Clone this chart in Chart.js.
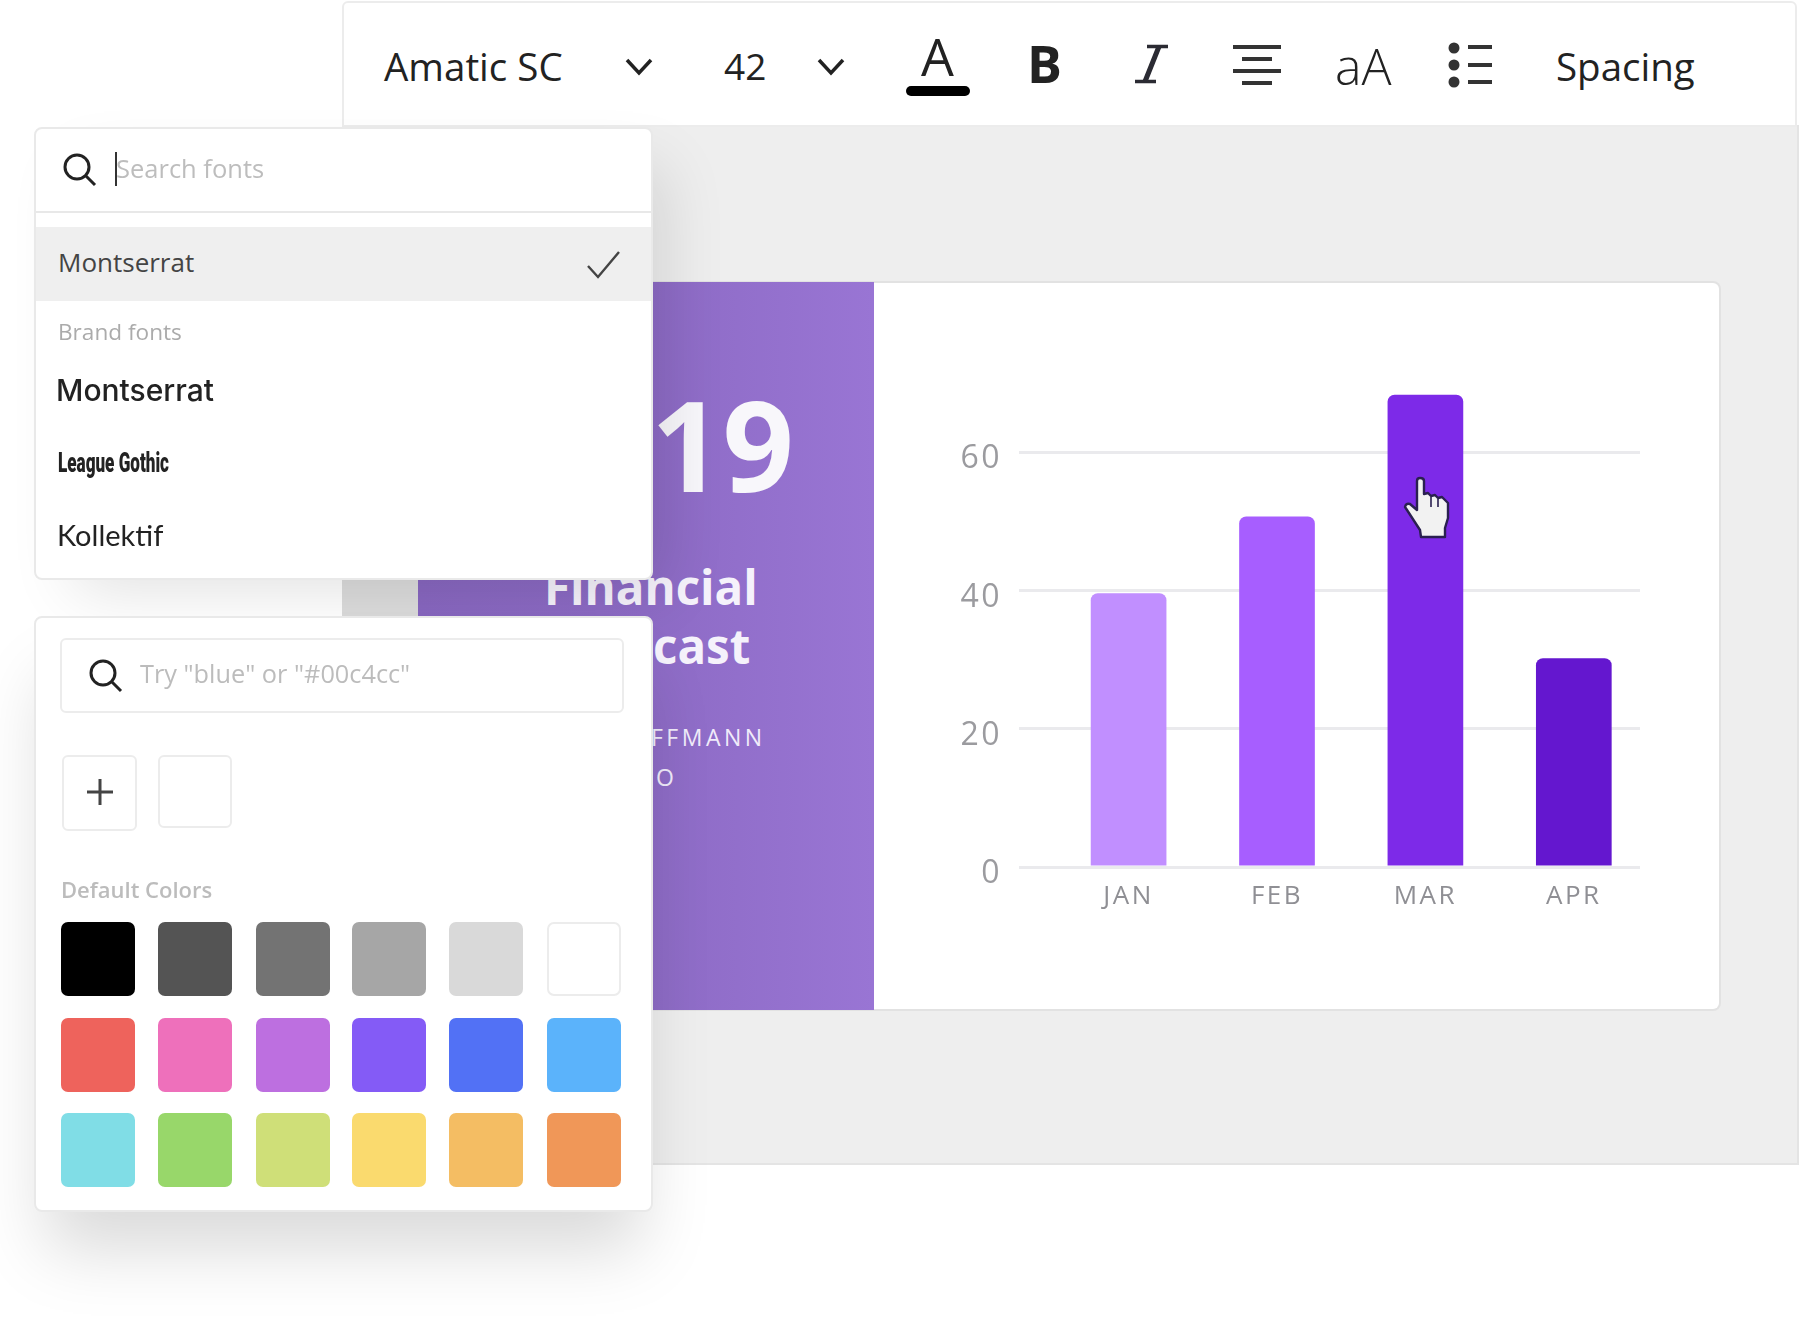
<!DOCTYPE html>
<html>
<head>
<meta charset="utf-8">
<title>Financial chart editor</title>
<script src="https://cdn.jsdelivr.net/npm/chart.js@4"></script>
<style>
  html, body { margin: 0; padding: 0; background: #fff; }
  #page { position: relative; width: 1800px; height: 1339px; overflow: hidden; font-family: "Open Sans", sans-serif; filter: blur(0.65px); }
  #page div, #page canvas, #page svg { position: absolute; }
  .t { white-space: nowrap; line-height: 1; }
  .panel { background: #fff; border: 2px solid #e9e9e9; border-radius: 8px; box-sizing: border-box; }
  .box { border: 2px solid #ececec; border-radius: 6px; box-sizing: border-box; background: #fff; }
  .swatch { border-radius: 7px; width: 74px; height: 74px; box-sizing: border-box; }
</style>
</head>
<body>
<div id="page">
  <!-- grey editor area and toolbar -->
  <div style="left:342px;top:125px;width:1455px;height:1038px;background:#eeeeee;border-bottom:2px solid #e4e4e4;border-right:2px solid #e4e4e4"></div>
  <div style="left:342px;top:1px;width:1455px;height:126px;background:#fff;border:2px solid #ececec;border-radius:6px 6px 0 0;box-sizing:border-box"></div>

  <div class="t" style="left:384px;top:47px;font-size:38.5px;color:#222">Amatic SC</div>
  <svg style="left:624px;top:56px" width="32" height="24"><path d="M3 4 L15 17 L27 4" fill="none" stroke="#222" stroke-width="3.5"/></svg>
  <div class="t" style="left:724px;top:47px;font-size:37px;color:#222">42</div>
  <svg style="left:816px;top:56px" width="32" height="24"><path d="M3 4 L15 17 L27 4" fill="none" stroke="#222" stroke-width="3.5"/></svg>
  <div class="t" style="left:921px;top:30px;font-size:52px;color:#222">A</div>
  <div style="left:906px;top:86px;width:64px;height:10px;background:#000;border-radius:5px"></div>
  <div class="t" style="left:1027px;top:37px;font-size:52px;font-weight:700;color:#222">B</div>
  <svg style="left:1130px;top:42px" width="42" height="44" fill="none" stroke="#2b2b33"><path d="M17 4.5 H38 M5 39.5 H26" stroke-width="3.6"/><path d="M29 4.5 L15 39.5" stroke-width="5"/></svg>
  <svg style="left:1232px;top:44px" width="50" height="42" fill="#333"><rect x="1" y="1" width="48" height="4"/><rect x="10" y="13" width="30" height="4"/><rect x="1" y="25" width="48" height="4"/><rect x="10" y="37" width="30" height="4"/></svg>
  <div class="t" style="left:1335px;top:41px;font-size:50px;font-weight:300;color:#222">aA</div>
  <svg style="left:1446px;top:42px" width="50" height="46" fill="#333"><circle cx="8" cy="6" r="5.5"/><circle cx="8" cy="23" r="5.5"/><circle cx="8" cy="40" r="5.5"/><rect x="22" y="3" width="24" height="4"/><rect x="22" y="21" width="24" height="4"/><rect x="22" y="38" width="24" height="4"/></svg>
  <div class="t" style="left:1556px;top:47px;font-size:38.5px;color:#222">Spacing</div>

  <!-- slide card with purple cover panel -->
  <div style="left:342px;top:580px;width:76px;height:36px;background:#dcdcdc"></div>
  <div style="left:418px;top:281px;width:1303px;height:730px;background:#fff;border:2px solid #e2e2e2;border-left:none;border-radius:0 8px 8px 0;box-sizing:border-box"></div>
  <div style="left:418px;top:282px;width:456px;height:728px;background:linear-gradient(90deg,#8867c0 0%,#8d6bc5 50%,#9975d4 100%)"></div>
  <div class="t" style="left:651px;top:381px;font-size:125px;font-weight:700;color:#f8f7fb">19</div>
  <div class="t" style="left:544px;top:563px;font-size:47.5px;font-weight:700;color:#f5f2fb">Financial</div>
  <div class="t" style="left:653px;top:622px;font-size:47.5px;font-weight:700;color:#f5f2fb">cast</div>
  <div class="t" style="left:651px;top:726px;font-size:23px;letter-spacing:3.5px;color:#f0ebfa">FFMANN</div>
  <div class="t" style="left:656px;top:766px;font-size:23px;color:#f0ebfa">O</div>

  <canvas id="chart" width="844" height="729" style="left:874px;top:281px"></canvas>

  <!-- hand cursor on the MAR bar -->
  <svg style="left:1395px;top:470px" width="65" height="75" viewBox="0 0 65 75">
    <path d="M22 11 Q22 8 25 8 Q29 8 29 11 L29 24 L33 23 L36 26 L40 25 L43 28 L47 27 L53 33 L53 48 L50 58 L50 67 L26 67 L25 60 L12 40 L10 37 Q11 33 15 34 L22 40 Z" fill="#f2f2f2" stroke="#2a2050" stroke-width="2.4" stroke-linejoin="round"/>
    <path d="M36 27 V37 M43 29 V37" stroke="#2a2050" stroke-width="1.6"/>
  </svg>

  <!-- font picker -->
  <div class="panel" style="left:34px;top:127px;width:619px;height:453px;box-shadow:25px 25px 60px -15px rgba(0,0,0,.12)"></div>
  <svg style="left:60px;top:150px" width="38" height="38" fill="none" stroke="#222" stroke-width="3"><circle cx="17" cy="17" r="12"/><path d="M26 26 L35 35"/></svg>
  <div style="left:115px;top:152px;width:2px;height:34px;background:#333"></div>
  <div class="t" style="left:116px;top:156px;font-size:25.5px;color:#bdbdbd">Search fonts</div>
  <div style="left:36px;top:211px;width:615px;height:2px;background:#e8e8e8"></div>
  <div style="left:36px;top:227px;width:615px;height:74px;background:#efefef"></div>
  <div class="t" style="left:58px;top:249px;font-size:26px;font-weight:500;color:#444">Montserrat</div>
  <svg style="left:586px;top:250px" width="36" height="30" fill="none" stroke="#444" stroke-width="2.4"><path d="M2 16 L12 27 L33 2"/></svg>
  <div class="t" style="left:58px;top:321px;font-size:22.6px;color:#ababab">Brand fonts</div>
  <div class="t" style="left:56px;top:375px;font-size:30px;font-family:Inter;font-weight:500;color:#222">Montserrat</div>
  <div class="t" style="left:58px;top:449px;font-size:28px;font-family:Roboto;font-weight:900;color:#222;transform:scaleX(.61);transform-origin:left">League Gothic</div>
  <div class="t" style="left:57px;top:520px;font-size:29px;font-family:Lato;color:#222">Kollektif</div>

  <!-- colour picker -->
  <div class="panel" style="left:34px;top:616px;width:619px;height:596px;box-shadow:0 50px 65px -12px rgba(0,0,0,.15)"></div>
  <div class="box" style="left:60px;top:638px;width:564px;height:75px"></div>
  <svg style="left:86px;top:656px" width="38" height="38" fill="none" stroke="#222" stroke-width="3"><circle cx="17" cy="17" r="12"/><path d="M26 26 L35 35"/></svg>
  <div class="t" style="left:140px;top:661px;font-size:25.3px;color:#bcbcbc">Try "blue" or "#00c4cc"</div>
  <div class="box" style="left:62px;top:755px;width:75px;height:76px"></div>
  <svg style="left:85px;top:777px" width="30" height="30" stroke="#444" stroke-width="3"><path d="M15 2 V28 M2 15 H28"/></svg>
  <div class="box" style="left:158px;top:755px;width:74px;height:73px"></div>
  <div class="t" style="left:61px;top:878px;font-size:22px;font-weight:600;color:#bcbcbc">Default Colors</div>
  <div id="swatches"></div>
</div>

<script>
// chart data
const months = ['JAN', 'FEB', 'MAR', 'APR'];
const sales = [39.6, 50.7, 68.3, 30.2];
const barColors = ['#c18fff', '#a75eff', '#7d2ae8', '#6417cf'];
const yTicks = [0, 20, 40, 60];

// default colour palette of the picker
const paletteRows = [
  ['#000000', '#545454', '#737373', '#a6a6a6', '#d9d9d9', '#ffffff'],
  ['#ee635c', '#ee70bb', '#bd6fe0', '#845bf6', '#5271f5', '#5bb3fb'],
  ['#80dde6', '#98d76a', '#cfdf78', '#fada6e', '#f4bd63', '#f09758']
];
const swatchX = [61, 158, 256, 352, 449, 547];
const swatchY = [922, 1018, 1113];
const swatches = document.querySelector('#swatches');
paletteRows.forEach((row, r) => {
  row.forEach((c, i) => {
    const d = document.createElement('div');
    d.className = 'swatch';
    d.style.left = swatchX[i] + 'px';
    d.style.top = swatchY[r] + 'px';
    d.style.background = c;
    if (c === '#ffffff') d.style.border = '2px solid #ececec';
    swatches.appendChild(d);
  });
});

// letter spacing for the axis labels
const spacing = {
  id: 'spacing',
  beforeDraw(chart) { chart.ctx.letterSpacing = '2.5px'; }
};

const ctx = document.getElementById('chart');
new Chart(ctx, {
  type: 'bar',
  data: {
    datasets: [{
      data: months.map((m, i) => ({ x: i, y: sales[i] })),
      backgroundColor: barColors,
      borderRadius: { topLeft: 7, topRight: 7, bottomLeft: 0, bottomRight: 0 },
      borderSkipped: false,
      barPercentage: 0.51,
      categoryPercentage: 1
    }]
  },
  plugins: [spacing],
  options: {
    responsive: false,
    animation: false,
    events: [],
    layout: { padding: { top: 102, right: 78 } },
    plugins: { legend: { display: false }, tooltip: { enabled: false } },
    scales: {
      x: {
        type: 'linear',
        offset: false,
        min: -0.7385,
        max: 3.446,
        afterFit(s) { s.height = 143; },
        afterBuildTicks(s) { s.ticks = months.map((m, i) => ({ value: i })); },
        grid: { display: false },
        border: { display: false },
        ticks: {
          padding: 6,
          maxRotation: 0,
          autoSkip: false,
          color: '#8f8f94',
          font: { family: 'Open Sans', size: 26 },
          callback: (v) => months[v]
        }
      },
      y: {
        min: 0,
        max: 70,
        afterFit(s) { s.width = 145; },
        afterBuildTicks(s) { s.ticks = yTicks.map((v) => ({ value: v })); },
        grid: { color: '#eaeaed', lineWidth: 3, drawTicks: false },
        border: { display: false },
        ticks: {
          padding: 17,
          labelOffset: 7,
          color: '#9b9b9f',
          font: { family: 'Open Sans', size: 32 }
        }
      }
    }
  }
});
</script>
</body>
</html>
